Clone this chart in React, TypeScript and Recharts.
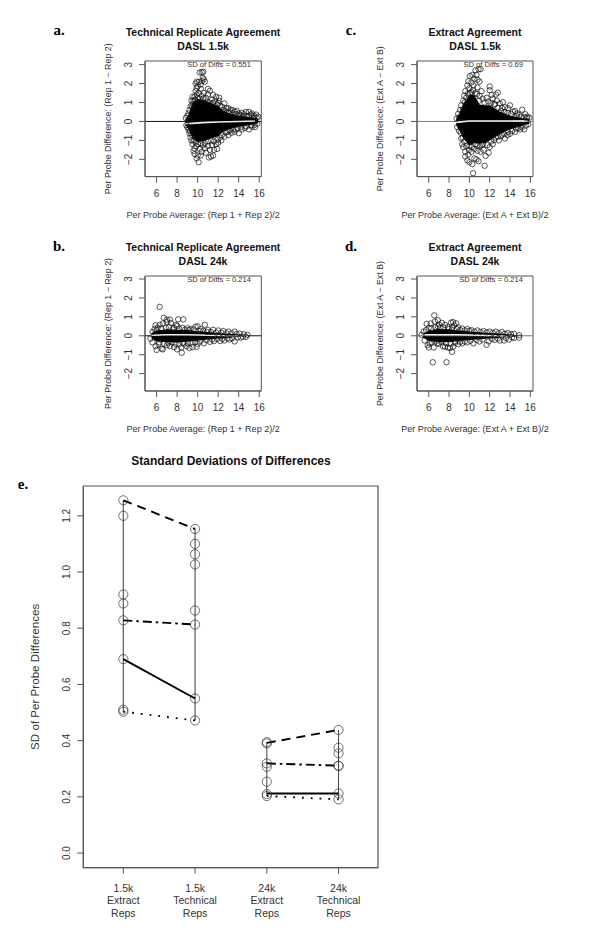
import React from 'react';
import {
  ComposedChart,
  Area,
  Line,
  Scatter,
  XAxis,
  YAxis,
  ReferenceArea,
  ReferenceLine,
} from 'recharts';

type Pt = [number, number];
type Band = [number, number, number];

// scatter panels: [average, difference]
const pointsA: Pt[] = [
  [10.4, 2.6], [10.2, 2.58], [10.55, 2.62], [10.5, 2.3], [10.7, 2.1], [10.4, 2.12], [10.6, 2.22], [9.9, 2.1], [9.8, 2.0], [10.1, 2.08],
  [10.3, 1.95], [10.0, 1.85], [9.9, 1.75], [9.8, 1.6], [10.3, 1.72], [11.0, 1.72], [11.2, 1.62], [10.1, 1.5], [9.7, 1.3], [9.9, 1.42],
  [10.6, 1.5], [11.5, 1.4], [11.8, 1.3], [12.1, 1.25], [12.1, 1.1], [11.0, 1.42], [10.8, 1.25], [9.5, 1.3], [9.4, 1.1], [9.5, 0.92],
  [9.3, 0.8], [9.2, 0.6], [9.1, 0.42], [9.0, 0.3], [8.85, 0.18], [10.4, 1.35], [10.2, 1.2], [11.4, 1.15], [11.7, 1.08], [12.0, 0.98],
  [12.6, 0.95], [12.4, 0.78], [12.8, 0.7], [13.0, 0.7], [13.2, 0.62], [13.4, 0.6], [13.6, 0.52], [13.8, 0.56], [14.0, 0.42], [14.3, 0.46],
  [14.5, 0.38], [14.7, 0.5], [15.0, 0.5], [15.2, 0.36], [15.3, 0.42], [15.5, 0.3], [15.7, 0.36], [15.9, 0.25], [14.2, 0.3], [14.8, 0.28],
  [10.1, -2.15], [9.9, -1.95], [9.7, -1.72], [10.0, -1.8], [10.3, -1.8], [10.4, -1.6], [9.7, -1.42], [9.5, -1.2], [9.4, -1.0], [10.7, -1.42],
  [11.1, -1.9], [11.3, -1.85], [11.5, -1.8], [11.6, -1.5], [11.9, -1.45], [11.2, -1.5], [11.0, -1.3], [12.0, -1.12], [12.3, -1.0], [13.0, -0.72],
  [13.6, -0.55], [14.0, -0.62], [14.3, -0.42], [15.0, -0.42], [15.6, -0.3], [9.2, -0.62], [9.1, -0.42], [9.6, -1.55], [9.85, -1.3], [10.2, -1.45],
  [10.5, -1.25], [10.8, -1.65], [11.4, -1.25], [11.8, -1.2], [12.2, -0.85], [12.6, -0.8], [12.9, -0.55], [13.3, -0.6], [13.7, -0.42], [14.6, -0.35],
  [15.3, -0.28], [15.8, -0.12], [9.3, -0.85], [9.0, -0.3], [8.9, -0.2],
  [9.6, 1.1], [9.75, 1.15], [10.0, 1.25], [10.55, 1.2], [10.9, 1.05], [11.15, 1.0], [11.5, 0.98], [11.9, 0.9], [12.2, 0.82], [12.45, 0.6],
  [12.7, 0.55], [13.05, 0.5], [13.4, 0.42], [13.7, 0.38], [14.1, 0.33], [14.45, 0.28], [15.05, 0.3], [15.45, 0.22], [15.75, 0.2], [9.45, 0.75],
  [9.6, -1.0], [9.8, -1.1], [10.05, -1.2], [10.35, -1.15], [10.7, -1.15], [11.0, -1.05], [11.3, -1.0], [11.6, -1.05], [11.95, -0.95], [12.35, -0.72],
  [12.75, -0.58], [13.1, -0.48], [13.45, -0.42], [13.9, -0.38], [14.25, -0.3], [14.75, -0.26], [15.2, -0.2], [15.55, -0.18], [9.4, -0.7], [9.25, -0.5],
];
const pointsB: Pt[] = [
  [6.3, 1.53], [6.7, 0.95], [7.0, 0.85], [7.3, 0.86], [8.1, 0.87], [8.6, 0.87], [5.9, 0.55], [6.3, 0.58], [6.6, 0.65], [7.0, 0.72],
  [7.4, 0.68], [7.9, 0.58], [8.0, 0.52], [8.5, 0.42], [9.0, 0.4], [9.8, 0.48], [10.0, 0.5], [10.7, 0.58], [10.3, 0.35], [11.0, 0.3],
  [11.5, 0.32], [12.0, 0.28], [12.5, 0.25], [13.0, 0.22], [13.6, 0.22], [14.1, 0.12], [14.5, 0.08], [14.85, 0.05], [5.6, 0.2], [5.8, 0.36],
  [6.1, 0.42], [7.7, 0.42], [9.3, 0.36], [5.4, -0.15], [5.6, -0.35], [5.9, -0.55], [6.0, -0.75], [6.5, -0.68], [6.6, -0.72], [6.2, -0.45],
  [7.0, -0.5], [7.3, -0.55], [7.7, -0.6], [8.0, -0.72], [8.45, -0.9], [8.4, -0.62], [8.9, -0.55], [9.2, -0.65], [9.5, -0.6], [9.9, -0.58],
  [10.0, -0.42], [10.6, -0.4], [11.2, -0.32], [11.6, -0.28], [12.2, -0.28], [12.6, -0.25], [13.1, -0.2], [13.6, -0.3], [14.2, -0.1], [14.7, -0.06],
  [8.7, -0.42], [7.5, -0.35],
  [6.0, 0.3], [6.45, 0.38], [6.9, 0.42], [7.2, 0.46], [7.55, 0.34], [8.2, 0.38], [8.75, 0.32], [9.15, 0.3], [9.6, 0.34], [10.2, 0.24],
  [10.55, 0.26], [10.9, 0.2], [11.3, 0.2], [11.8, 0.17], [12.3, 0.16], [12.8, 0.13], [13.3, 0.13], [13.8, 0.09], [6.25, -0.35], [6.75, -0.42],
  [7.15, -0.38], [7.85, -0.42], [8.2, -0.45], [8.55, -0.38], [9.05, -0.4], [9.4, -0.36], [9.75, -0.34], [10.25, -0.3], [10.85, -0.24], [11.4, -0.2],
  [11.9, -0.17], [12.4, -0.16], [12.9, -0.13], [13.35, -0.14], [13.9, -0.09], [14.4, -0.05],
];
const pointsC: Pt[] = [
  [10.36, -2.73], [11.5, -2.34], [10.9, 2.75], [11.1, 2.76], [10.6, 2.7], [10.3, 2.45], [10.7, 2.45], [10.05, 2.4], [9.9, 2.12], [10.5, 2.25],
  [10.8, 2.2], [11.0, 2.1], [10.2, 2.05], [9.8, 1.9], [9.6, 1.6], [9.5, 1.35], [9.4, 1.1], [9.2, 0.85], [9.1, 0.6], [8.9, 0.4],
  [8.75, 0.15], [10.0, 1.75], [10.4, 1.9], [10.8, 1.8], [11.2, 1.6], [9.85, 1.45], [10.2, 1.55], [10.6, 1.5], [11.0, 1.35], [11.3, 1.2],
  [12.0, 1.85], [12.0, 1.65], [12.6, 1.42], [12.8, 1.52], [13.3, 1.02], [14.0, 0.85], [13.8, 0.7], [15.2, 0.62], [14.7, 0.42], [12.3, 1.2],
  [12.7, 1.1], [13.0, 0.95], [13.5, 0.75], [14.3, 0.52], [14.9, 0.35], [11.7, 1.25], [12.2, 1.4], [13.2, 0.7], [14.5, 0.55], [15.5, 0.38],
  [15.7, 0.25], [15.9, 0.2], [15.4, 0.22], [12.5, 0.9],
  [9.0, -0.5], [8.8, -0.3], [9.2, -0.9], [9.3, -1.2], [9.4, -1.35], [9.6, -1.6], [9.6, -1.85], [9.8, -2.05], [10.0, -2.15], [10.3, -2.25],
  [10.5, -1.95], [10.7, -2.0], [10.9, -2.1], [9.9, -1.75], [10.2, -1.6], [10.5, -1.45], [10.8, -1.55], [11.1, -1.6], [11.4, -1.5], [11.6, -1.82],
  [11.9, -1.65], [12.0, -1.35], [11.2, -1.25], [12.3, -1.2], [12.6, -0.85], [12.9, -1.0], [13.5, -0.9], [14.0, -0.65], [13.2, -0.7], [14.5, -0.55],
  [15.0, -0.42], [15.4, -0.42], [15.8, -0.15], [14.8, -0.35], [13.8, -0.55], [9.5, -1.05], [10.0, -1.3], [10.6, -1.2],
  [9.55, 1.0], [9.7, 1.25], [10.05, 1.5], [10.35, 1.65], [10.75, 1.45], [10.95, 1.1], [11.5, 1.0], [11.85, 1.05], [12.15, 0.98], [12.45, 0.92],
  [12.85, 0.72], [13.1, 0.55], [13.45, 0.5], [13.75, 0.45], [14.1, 0.4], [14.65, 0.28], [15.1, 0.25], [15.65, 0.18], [9.0, 0.22], [9.35, 0.62],
  [9.7, -1.3], [9.95, -1.5], [10.25, -1.35], [10.8, -1.28], [11.05, -1.3], [11.35, -1.2], [11.75, -1.25], [12.15, -1.05], [12.45, -0.98], [12.8, -0.8],
  [13.1, -0.78], [13.4, -0.65], [13.75, -0.72], [14.2, -0.5], [14.6, -0.38], [15.15, -0.3], [15.55, -0.22], [9.15, -0.6], [9.35, -0.85],
];
const pointsD: Pt[] = [
  [6.4, -1.4], [7.75, -1.4], [6.55, 1.08], [6.9, 0.82], [5.8, 0.63], [6.2, 0.65], [6.6, 0.75], [7.0, 0.6], [7.3, 0.68], [7.6, 0.58],
  [8.2, 0.7], [8.4, 0.72], [8.7, 0.66], [8.5, 0.55], [8.9, 0.45], [9.3, 0.38], [9.8, 0.35], [10.2, 0.3], [10.8, 0.28], [11.4, 0.25],
  [12.0, 0.22], [12.6, 0.22], [13.2, 0.2], [13.8, 0.14], [14.4, 0.1], [14.9, 0.03], [5.3, 0.05], [5.5, 0.22], [6.0, 0.42], [6.9, 0.5],
  [7.9, 0.46], [5.6, -0.25], [5.9, -0.5], [6.0, -0.62], [6.5, -0.62], [6.1, -0.4], [7.0, -0.42], [7.4, -0.55], [7.6, -0.58], [7.9, -0.62],
  [8.3, -0.85], [8.1, -0.65], [8.4, -0.58], [8.9, -0.45], [9.3, -0.4], [9.8, -0.35], [10.4, -0.4], [11.0, -0.3], [11.7, -0.48], [11.9, -0.3],
  [12.5, -0.22], [13.0, -0.25], [13.4, -0.25], [13.9, -0.2], [14.4, -0.12], [14.9, -0.1], [6.7, -0.3], [8.6, -0.3],
  [5.75, 0.3], [6.25, 0.4], [6.65, 0.46], [7.15, 0.42], [7.45, 0.44], [8.0, 0.36], [8.3, 0.42], [8.75, 0.36], [9.1, 0.3], [9.55, 0.28],
  [10.0, 0.26], [10.5, 0.22], [11.1, 0.2], [11.7, 0.18], [12.3, 0.15], [12.9, 0.14], [13.5, 0.11], [14.1, 0.08], [6.3, -0.35], [6.85, -0.4],
  [7.25, -0.32], [7.7, -0.4], [8.15, -0.42], [8.6, -0.38], [9.1, -0.32], [9.55, -0.3], [10.1, -0.27], [10.7, -0.22], [11.3, -0.2], [12.2, -0.17],
  [12.8, -0.14], [13.6, -0.12], [14.2, -0.08],
];

// solid part of each cloud: [average, low, high]
const bandA: Band[] = [
  [8.8, -0.2, 0.12], [9.1, -0.4, 0.35], [9.5, -0.9, 1.0], [10, -1.1, 1.2], [10.5, -1.05, 1.15], [11, -0.95, 1.05], [12, -0.78, 0.82],
  [12.5, -0.55, 0.58], [13, -0.42, 0.45], [14, -0.28, 0.3], [15, -0.2, 0.24], [15.9, -0.1, 0.16],
];
const bandB: Band[] = [
  [5.5, -0.15, 0.14], [6, -0.3, 0.28], [7, -0.34, 0.34], [8, -0.36, 0.32], [9, -0.32, 0.3], [10, -0.26, 0.24], [11, -0.2, 0.2],
  [12, -0.15, 0.15], [13, -0.11, 0.11], [14, -0.07, 0.07], [14.8, -0.03, 0.03],
];
const bandC: Band[] = [
  [8.7, -0.2, 0.12], [9, -0.45, 0.4], [9.4, -0.9, 0.95], [10, -1.25, 1.4], [10.5, -1.15, 1.4], [11, -1.15, 0.9], [11.5, -1.15, 0.85],
  [12, -1.0, 0.85], [13, -0.68, 0.52], [14, -0.42, 0.32], [15, -0.27, 0.2], [15.9, -0.12, 0.14],
];
const bandD: Band[] = [
  [5.4, -0.08, 0.1], [6, -0.28, 0.28], [7, -0.34, 0.36], [8, -0.34, 0.34], [9, -0.28, 0.28], [10, -0.23, 0.23], [11, -0.18, 0.18],
  [12, -0.14, 0.14], [13, -0.1, 0.12], [14, -0.07, 0.07], [14.8, -0.05, 0.02],
];

// the white smoother through each cloud
const trendA: Pt[] = [[8.8, -0.12], [9.5, -0.1], [10.5, -0.06], [12, -0.03], [14, 0], [15.6, 0.02]];
const trendB: Pt[] = [[5.5, 0.03], [7, 0.05], [9, 0.05], [11, 0.03], [13, 0], [14.8, -0.02]];
const trendC: Pt[] = [[8.7, -0.05], [10, 0.02], [12, 0.02], [14, 0.02], [15.8, 0.03]];
const trendD: Pt[] = [[5.4, 0.05], [7, 0.05], [9, 0.05], [11, 0.03], [13, 0], [14.8, -0.04]];

const xTicks = [6, 8, 10, 12, 14, 16];
const yTicks = [-2, -1, 0, 1, 2, 3];

// panel e
const groupLabels = [
  ['1.5k', 'Extract', 'Reps'],
  ['1.5k', 'Technical', 'Reps'],
  ['24k', 'Extract', 'Reps'],
  ['24k', 'Technical', 'Reps'],
];
const sdGroups = [1, 2, 3, 4];
const sdExtract15k = [1.255, 1.2, 0.92, 0.888, 0.828, 0.69, 0.51, 0.503];
const sdTechnical15k = [1.153, 1.1, 1.063, 1.027, 0.863, 0.813, 0.55, 0.472];
const sdExtract24k = [0.395, 0.39, 0.319, 0.307, 0.254, 0.21, 0.203];
const sdTechnical24k = [0.438, 0.375, 0.355, 0.311, 0.31, 0.212, 0.191];
const sdAllGroups = [sdExtract15k, sdTechnical15k, sdExtract24k, sdTechnical24k];
const sdTicks = [0, 0.2, 0.4, 0.6, 0.8, 1, 1.2];

const dashedPair = [1.255, 1.153, 0.392, 0.438];
const dashDotPair = [0.828, 0.813, 0.319, 0.311];
const solidPair = [0.69, 0.55, 0.212, 0.212];
const dottedPair = [0.503, 0.472, 0.203, 0.191];

const inkText = '#333';
const inkAxis = '#555';
const sans = '"Liberation Sans", Arial, sans-serif';

const toRows = (pts: Pt[]) => pts.map(([x, y]) => ({ x, y }));

const YTick = (props: any) => {
  const { x, y, payload, digits } = props;
  const v = payload.value as number;
  const txt = digits ? v.toFixed(digits) : v < 0 ? `\u2212${-v}` : String(v);
  return (
    <text x={x} y={y} transform={`rotate(-90 ${x} ${y})`} textAnchor="middle" fontSize={10} fill={inkText} fontFamily={sans}>
      {txt}
    </text>
  );
};

const GroupTick = (props: any) => {
  const { x, y, payload } = props;
  const lines = groupLabels[(payload.value as number) - 1];
  return (
    <text x={x} y={y} textAnchor="middle" fontSize={10.5} fill={inkText} fontFamily={sans}>
      {lines.map((l, i) => (
        <tspan key={l} x={x} dy={i === 0 ? 16 : 12.4}>
          {l}
        </tspan>
      ))}
    </text>
  );
};

const Ring = (r: number, w: number, c: string) => (props: any) =>
  <circle cx={props.cx} cy={props.cy} r={r} fill="none" stroke={c} strokeWidth={w} />;

type PanelProps = {
  left: number;
  top: number;
  width: number;
  height: number;
  xDomain: [number, number];
  yDomain: [number, number];
  points: Pt[];
  band: Band[];
  trend: Pt[];
  zeroColor: string;
  xLabel: string;
  yLabel: string;
};

const Panel: React.FC<PanelProps> = ({ left, top, width, height, xDomain, yDomain, points, band, trend, zeroColor, xLabel, yLabel }) => {
  const bandRows = band.map(([x, lo, hi]) => ({ x, range: [lo, hi] }));
  return (
    <div style={{ position: 'absolute', left: left - 50, top: top - 30 }}>
      <ComposedChart width={width + 90} height={height + 90} margin={{ top: 30, right: 40, bottom: 10, left: 0 }}>
        <XAxis
          dataKey="x"
          type="number"
          domain={xDomain}
          ticks={xTicks}
          tickSize={6}
          tickMargin={7}
          interval={0}
          height={50}
          stroke={inkAxis}
          tick={{ fontSize: 10, fill: inkText, fontFamily: sans }}
          label={{ value: xLabel, position: 'insideBottom', offset: 9, fontSize: 9.05, fill: inkText, fontFamily: sans }}
        />
        <YAxis
          type="number"
          domain={yDomain}
          ticks={yTicks}
          tickSize={6}
          interval={0}
          width={50}
          stroke={inkAxis}
          tick={(p: any) => <YTick {...p} x={37.4} />}
          label={{ value: yLabel, angle: -90, position: 'insideLeft', offset: 13, fontSize: 8.9, fill: inkText, fontFamily: sans, style: { textAnchor: 'middle' } }}
        />
        <ReferenceArea x1={xDomain[0]} x2={xDomain[1]} y1={yDomain[0]} y2={yDomain[1]} fill="none" stroke={inkAxis} strokeWidth={1} />
        <Area data={bandRows} dataKey="range" type="linear" fill="#000" fillOpacity={1} stroke="none" dot={false} activeDot={false} isAnimationActive={false} />
        <Scatter data={toRows(points)} dataKey="y" shape={Ring(2.7, 0.7, '#111')} isAnimationActive={false} />
        <ReferenceLine y={0} stroke={zeroColor} strokeWidth={1} />
        <Line data={toRows(trend)} dataKey="y" type="linear" stroke="#eee" strokeWidth={1.6} dot={false} activeDot={false} isAnimationActive={false} />
      </ComposedChart>
    </div>
  );
};

const SdPanel: React.FC = () => {
  const pairs: { vals: number[]; dash?: string }[] = [
    { vals: dashedPair, dash: '9 6' },
    { vals: dashDotPair, dash: '9 4 2.5 4' },
    { vals: solidPair },
    { vals: dottedPair, dash: '1.8 7' },
  ];
  return (
    <div style={{ position: 'absolute', left: 23, top: 476 }}>
      <ComposedChart width={365} height={462} margin={{ top: 10, right: 10, bottom: 0, left: 0 }}>
        <XAxis
          dataKey="x"
          type="number"
          domain={[0.442, 4.55]}
          ticks={sdGroups}
          tickSize={6}
          interval={0}
          height={70.3}
          stroke={inkAxis}
          tick={(p: any) => <GroupTick {...p} />}
        />
        <YAxis
          type="number"
          domain={[-0.052, 1.306]}
          ticks={sdTicks}
          tickSize={6}
          interval={0}
          width={60.3}
          stroke={inkAxis}
          tick={(p: any) => <YTick {...p} x={47} digits={1} />}
          label={{ value: 'SD of Per Probe Differences', angle: -90, position: 'insideLeft', offset: 12, fontSize: 11.6, fill: inkText, fontFamily: sans, style: { textAnchor: 'middle' } }}
        />
        <ReferenceArea x1={0.442} x2={4.55} y1={-0.052} y2={1.306} fill="none" stroke={inkAxis} strokeWidth={1.2} />
        {sdAllGroups.map((vals, i) => (
          <Line
            key={`stem${i}`}
            data={[{ x: sdGroups[i], y: Math.min(...vals) }, { x: sdGroups[i], y: Math.max(...vals) }]}
            dataKey="y"
            stroke={i < 2 ? '#666' : '#444'}
            strokeWidth={i < 2 ? 1.3 : 1}
            dot={false}
            activeDot={false}
            isAnimationActive={false}
          />
        ))}
        {pairs.flatMap((p, i) =>
          [0, 2].map((k) => (
            <Line
              key={`pair${i}-${k}`}
              data={[{ x: sdGroups[k], y: p.vals[k] }, { x: sdGroups[k + 1], y: p.vals[k + 1] }]}
              dataKey="y"
              stroke="#000"
              strokeWidth={1.9}
              strokeDasharray={p.dash}
              dot={false}
              activeDot={false}
              isAnimationActive={false}
            />
          )),
        )}
        {sdAllGroups.map((vals, i) => (
          <Scatter
            key={`ring${i}`}
            data={vals.map((y) => ({ x: sdGroups[i], y }))}
            dataKey="y"
            shape={Ring(4.6, 0.7, '#333')}
            isAnimationActive={false}
          />
        ))}
      </ComposedChart>
    </div>
  );
};

const Label: React.FC<{ x: number; y: number; w?: number; size: number; bold?: boolean; serif?: boolean; align?: 'left' | 'center' | 'right'; children: React.ReactNode }> = ({
  x,
  y,
  w = 260,
  size,
  bold,
  serif,
  align = 'center',
  children,
}) => {
  const boxLeft = align === 'center' ? x - w / 2 : align === 'right' ? x - w : x;
  return (
    <div
      style={{
        position: 'absolute',
        left: boxLeft,
        top: y - 10,
        width: w,
        height: 20,
        lineHeight: '20px',
        textAlign: align,
        fontSize: size,
        fontWeight: bold ? 700 : 400,
        fontFamily: serif ? '"Liberation Serif", serif' : sans,
        color: serif ? '#000' : bold ? '#111' : inkText,
        whiteSpace: 'nowrap',
      }}
    >
      {children}
    </div>
  );
};

const leftCol = { left: 144.7, width: 116.3, xDomain: [4.87, 16.2] as [number, number] };
const rightCol = { left: 417.3, width: 116, xDomain: [4.85, 16.26] as [number, number] };
const topRow = { top: 60.7, height: 115.6, yDomain: [-2.91, 3.19] as [number, number] };
const botRow = { top: 276.3, height: 115, yDomain: [-2.92, 3.16] as [number, number] };

export default function App() {
  return (
    <div style={{ position: 'absolute', left: 0, top: 0, width: 600, height: 945, background: '#fff', overflow: 'hidden' }}>
      <Panel {...leftCol} {...topRow} points={pointsA} band={bandA} trend={trendA} zeroColor="#111" xLabel="Per Probe Average: (Rep 1 + Rep 2)/2" yLabel="Per Probe Difference: (Rep 1 − Rep 2)" />
      <Panel {...rightCol} {...topRow} points={pointsC} band={bandC} trend={trendC} zeroColor="#777" xLabel="Per Probe Average: (Ext A + Ext B)/2" yLabel="Per Probe Difference: (Ext A − Ext B)" />
      <Panel {...leftCol} {...botRow} points={pointsB} band={bandB} trend={trendB} zeroColor="#111" xLabel="Per Probe Average: (Rep 1 + Rep 2)/2" yLabel="Per Probe Difference: (Rep 1 − Rep 2)" />
      <Panel {...rightCol} {...botRow} points={pointsD} band={bandD} trend={trendD} zeroColor="#777" xLabel="Per Probe Average: (Ext A + Ext B)/2" yLabel="Per Probe Difference: (Ext A − Ext B)" />
      <SdPanel />

      <Label x={59} y={30} size={15} bold serif>a.</Label>
      <Label x={351} y={30} size={15} bold serif>c.</Label>
      <Label x={59} y={246} size={15} bold serif>b.</Label>
      <Label x={351} y={246} size={15} bold serif>d.</Label>
      <Label x={23} y={484} size={15} bold serif>e.</Label>

      <Label x={203} y={32} size={10.5} bold>Technical Replicate Agreement</Label>
      <Label x={203} y={46} size={10.5} bold>DASL 1.5k</Label>
      <Label x={475} y={32} size={10.5} bold>Extract Agreement</Label>
      <Label x={475} y={46} size={10.5} bold>DASL 1.5k</Label>
      <Label x={203} y={247} size={10.5} bold>Technical Replicate Agreement</Label>
      <Label x={203} y={261} size={10.5} bold>DASL 24k</Label>
      <Label x={475} y={247} size={10.5} bold>Extract Agreement</Label>
      <Label x={475} y={261} size={10.5} bold>DASL 24k</Label>
      <Label x={231} y={461} size={12} bold>Standard Deviations of Differences</Label>

      <Label x={251} y={65} size={7.6} align="right">SD of Diffs = 0.551</Label>
      <Label x={523} y={65} size={7.6} align="right">SD of Diffs = 0.69</Label>
      <Label x={251} y={280} size={7.6} align="right">SD of Diffs = 0.214</Label>
      <Label x={523} y={280} size={7.6} align="right">SD of Diffs = 0.214</Label>
    </div>
  );
}
